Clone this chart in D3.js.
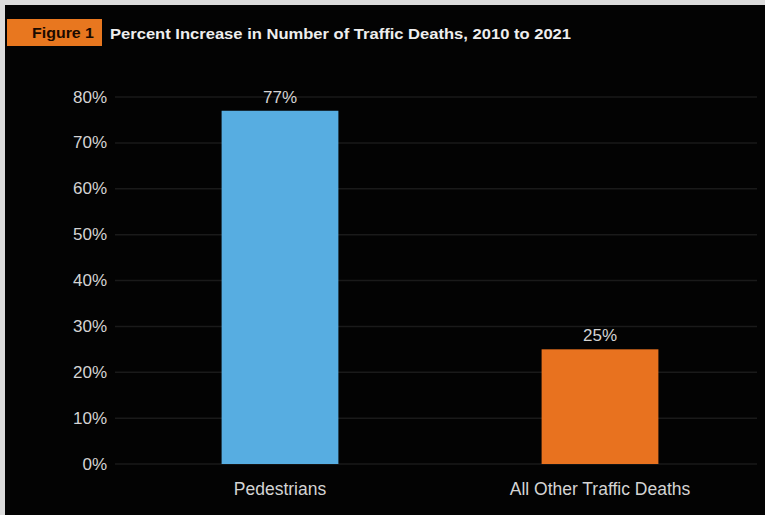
<!DOCTYPE html>
<html>
<head>
<meta charset="utf-8">
<script src="https://cdn.jsdelivr.net/npm/d3@7"></script>
<style>
  html, body { margin: 0; padding: 0; background: #dcdcdc; overflow: hidden; }
  svg { display: block; }
</style>
</head>
<body>
<svg id="chart" width="765" height="515"></svg>
<script>
// Percent increase in traffic deaths, 2010 to 2021
const categories = ["Pedestrians", "All Other Traffic Deaths"];
const values = [77, 25];
const barColors = ["#57ade1", "#e8721f"];
const tickValues = [0, 10, 20, 30, 40, 50, 60, 70, 80];
const figureTag = "Figure 1";
const title = "Percent Increase in Number of Traffic Deaths, 2010 to 2021";

const svg = d3.select("#chart");
const font = "'Liberation Sans', Arial, Helvetica, sans-serif";

// dark panel
svg.append("rect")
  .attr("x", 5).attr("y", 5)
  .attr("width", 760).attr("height", 510)
  .attr("fill", "#030303");

// figure tag + title
svg.append("rect")
  .attr("x", 7).attr("y", 19)
  .attr("width", 95).attr("height", 27)
  .attr("fill", "#e8771f");
svg.append("text")
  .attr("x", 32).attr("y", 38)
  .attr("font-family", font).attr("font-weight", "bold")
  .attr("font-size", 15).attr("fill", "#1a0a00")
  .attr("textLength", 62).attr("lengthAdjust", "spacingAndGlyphs")
  .text(figureTag);
svg.append("text")
  .attr("x", 110).attr("y", 39)
  .attr("font-family", font).attr("font-weight", "bold")
  .attr("font-size", 15.5).attr("fill", "#eeeeee")
  .attr("textLength", 461).attr("lengthAdjust", "spacingAndGlyphs")
  .text(title);

// scales
const y = d3.scaleLinear().domain([0, 80]).range([464, 97]);
const x = d3.scaleBand().domain(categories).range([120, 760])
  .paddingInner(0.635).paddingOuter(0.3175);

// gridlines
svg.append("g")
  .selectAll("line")
  .data(tickValues)
  .join("line")
  .attr("x1", 115).attr("x2", 757)
  .attr("y1", d => y(d)).attr("y2", d => y(d))
  .attr("stroke", "#1a1a1a").attr("stroke-width", 1.5);

// y axis labels
const yAxis = d3.axisLeft(y)
  .tickValues(tickValues)
  .tickFormat(d => d + "%")
  .tickSize(0).tickPadding(0);
const gy = svg.append("g").attr("transform", "translate(107,0)").call(yAxis);
gy.select(".domain").remove();
gy.selectAll("text")
  .attr("font-family", font).attr("font-size", 17)
  .attr("fill", "#d4d4d4").attr("dy", "0.3em");

// bars
svg.append("g")
  .selectAll("rect")
  .data(categories)
  .join("rect")
  .attr("x", d => x(d))
  .attr("width", x.bandwidth())
  .attr("y", (d, i) => y(values[i]))
  .attr("height", (d, i) => y(0) - y(values[i]))
  .attr("fill", (d, i) => barColors[i]);

// value labels
svg.append("g")
  .selectAll("text")
  .data(categories)
  .join("text")
  .attr("x", d => x(d) + x.bandwidth() / 2)
  .attr("y", (d, i) => y(values[i]) - 8)
  .attr("text-anchor", "middle")
  .attr("font-family", font).attr("font-size", 17)
  .attr("fill", "#d4d4d4")
  .text((d, i) => values[i] + "%");

// x axis labels
const xAxis = d3.axisBottom(x).tickSize(0).tickPadding(0);
const gx = svg.append("g").attr("transform", "translate(0,495)").call(xAxis);
gx.select(".domain").remove();
gx.selectAll("text")
  .attr("font-family", font).attr("font-size", 17.5)
  .attr("fill", "#d4d4d4").attr("dy", 0);
</script>
</body>
</html>
